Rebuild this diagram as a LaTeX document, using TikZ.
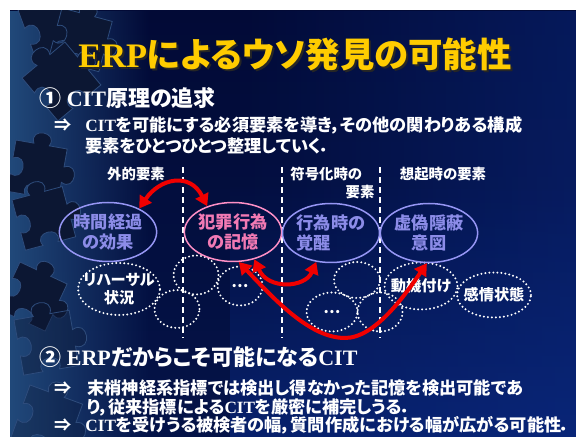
\documentclass[tikz,border=0pt]{standalone}
\usepackage{fontspec}
\setmainfont{Liberation Serif}
\newfontfamily\jp{Noto Sans CJK JP}[RawFeature=+palt]
\usepackage{tikz}
\usetikzlibrary{shapes,arrows.meta,fadings,positioning}
\newcommand{\ja}[1]{{\jp#1}}
\definecolor{navy}{HTML}{020A36}
\definecolor{navylow}{HTML}{041348}
\definecolor{deepblue}{HTML}{0B2C88}
\definecolor{edgeblue}{HTML}{21497A}
\definecolor{piecefill}{HTML}{0C1733}
\definecolor{pieceline}{HTML}{2E4C7C}
\definecolor{gold}{HTML}{FFCC00}
\definecolor{lav}{HTML}{9696F4}
\definecolor{lavtext}{HTML}{8C8CE8}
\definecolor{rose}{HTML}{FF90C6}
\definecolor{rosetext}{HTML}{F27AB4}
\definecolor{arrowred}{HTML}{F00000}
\tikzfading[name=fadeleft, left color=transparent!100, right color=transparent!0]
\tikzfading[name=faderight, left color=transparent!0, right color=transparent!100]
\tikzfading[name=fadeup, top color=transparent!100, bottom color=transparent!0]
\tikzstyle{elem}=[ellipse, draw=lav, line width=0.75pt, minimum width=48.5pt, minimum height=29.5pt, inner sep=0pt, text=lavtext, align=center, font=\jp\bfseries\fontsize{8.6}{10}\selectfont]
\tikzstyle{subelem}=[ellipse, draw=white, line width=1.1pt, dash pattern=on 0pt off 2pt, line cap=round, inner sep=0pt]
\tikzstyle{subtext}=[text=white, inner sep=0pt, align=center, font=\jp\bfseries\fontsize{7.6}{9}\selectfont]
\tikzstyle{coltag}=[text=white, inner sep=0pt, font=\jp\bfseries\fontsize{7.2}{8}\selectfont]
\tikzstyle{bodyline}=[text=white, anchor=west, inner sep=0pt, font=\bfseries\fontsize{8.6}{10}\selectfont]
\tikzstyle{hdline}=[text=white, anchor=west, inner sep=0pt, font=\bfseries\fontsize{11}{13}\selectfont]
\tikzstyle{titletext}=[inner sep=0pt, font=\bfseries\fontsize{17.2}{20}\selectfont]
\tikzstyle{divider}=[white, line width=0.7pt, dash pattern=on 3pt off 2pt]
\tikzstyle{redlink}=[arrowred, line width=2pt, {Triangle[length=6pt,width=7pt]}-{Triangle[length=6pt,width=7pt]}]
\tikzset{jigsaw/.pic={
	\path[pic actions] (0,0) -- (14,0) .. controls (8,-12) and (32,-12) .. (26,0) -- (40,0) -- (40,14) .. controls (52,8) and (52,32) .. (40,26) -- (40,40) -- (26,40) .. controls (32,28) and (8,28) .. (14,40) -- (0,40) -- (0,26) .. controls (12,32) and (12,8) .. (0,14) -- cycle;
}}

\begin{document}
\begin{tikzpicture}[x=0.5pt,y=-0.5pt]
	\useasboundingbox (0,0) rectangle (576,437);
	\fill[white] (0,0) rectangle (576,437);
	% slide background
	\begin{scope}
		\clip (10,11) rectangle (576,437);
		\shade[top color=navy, bottom color=navylow] (10,11) rectangle (576,437);
		\fill[deepblue, fill opacity=0.45, path fading=fadeleft] (230,11) rectangle (576,437);
		\fill[deepblue, fill opacity=0.55, path fading=fadeup] (230,180) rectangle (576,437);
		\fill[edgeblue, path fading=faderight] (10,11) rectangle (150,437);
		% jigsaw pieces down the left edge
		\pic[fill=piecefill, draw=pieceline, rotate=20, scale=1.4] at (18,10) {jigsaw};
		\pic[fill=piecefill, draw=pieceline, rotate=-15, scale=1.3] at (62,8) {jigsaw};
		\pic[fill=piecefill, draw=pieceline, rotate=40, scale=1.4] at (22,78) {jigsaw};
		\pic[fill=piecefill, draw=pieceline, rotate=-10, scale=1.3] at (16,140) {jigsaw};
		\pic[fill=piecefill, draw=pieceline, rotate=15, scale=1.3] at (12,200) {jigsaw};
		\pic[fill=piecefill, draw=pieceline, rotate=-25, scale=1.3] at (20,262) {jigsaw};
		\pic[fill=piecefill, fill opacity=0.4, draw=pieceline, rotate=10, scale=1.4] at (14,320) {jigsaw};
		\pic[fill=piecefill, fill opacity=0.3, draw=pieceline, rotate=-20, scale=1.4] at (30,385) {jigsaw};
	\end{scope}

	% title
	\node[titletext, text=black!85] (tshadow) at (297,56) {ERP\ja{によるウソ発見の可能性}};
	\node[titletext, text=gold] (title) at (295,54) {ERP\ja{によるウソ発見の可能性}};

	% part 1
	\node[hdline] (h1) at (39,98) {\ja{①} CIT\ja{原理の追求}};
	\node[bodyline] (i1) at (54,125) {\ja{⇒}};
	\node[bodyline] (t1) at (85,125) {CIT\ja{を可能にする必須要素を導き，その他の関わりある構成}};
	\node[bodyline] (t2) at (85,146) {\ja{要素をひとつひとつ整理していく．}};

	% column headings and dividers
	\node[coltag] (c1) at (136,174) {外的要素};
	\node[coltag, anchor=west] (c2) at (290,174) {符号化時の};
	\node[coltag] (c2b) at (360,192) {要素};
	\node[coltag] (c3) at (443,174) {想起時の要素};
	\foreach \x in {183,282,380}
		\draw[divider] (\x,167) -- (\x,338);

	% dotted side factors
	\node[subelem, minimum width=41pt, minimum height=26pt] (rehearsal) at (119,289) {};
	\node[subtext] at (rehearsal) {リハーサル\\状況};
	\node[subelem, minimum width=22.5pt, minimum height=19pt] (s1) at (177,309) {};
	\node[subelem, minimum width=22.5pt, minimum height=19.5pt] (s2) at (196,275) {};
	\node[subelem, minimum width=22.5pt, minimum height=19.5pt] (more1) at (240,286) {};
	\node[subtext] at (more1) {…};
	\node[subelem, minimum width=23pt, minimum height=18pt] (s3) at (357,280) {};
	\node[subelem, minimum width=25.5pt, minimum height=19.5pt] (more2) at (332,312) {};
	\node[subtext] at (more2) {…};
	\node[subelem, minimum width=22.5pt, minimum height=19.5pt] (s4) at (380,312) {};
	\node[subelem, minimum width=36.5pt, minimum height=23.5pt] (motive) at (421,286) {};
	\node[subtext] at (motive) {動機付け};
	\node[subelem, minimum width=37pt, minimum height=22.5pt] (emotion) at (494,295) {};
	\node[subtext] at (emotion) {感情状態};

	% main elements
	\node[elem] (time) at (108,232) {時間経過\\の効果};
	\node[elem, draw=rose, text=rosetext] (crime) at (233,232) {犯罪行為\\の記憶};
	\node[elem, align=left] (arousal) at (331,233) {行為時の\\覚醒};
	\node[elem] (intent) at (429,233) {虚偽隠蔽\\意図};

	% links
	\draw[redlink] (time.37) .. controls (160,178) and (190,172) .. (crime.135);
	\draw[redlink] (crime.-52) .. controls (268,290) and (305,288) .. (arousal.-117);
	\draw[redlink] (crime.-79) .. controls (275,300) and (310,338) .. (345,338) .. controls (375,338) and (405,295) .. (intent.-94);

	% part 2
	\node[hdline] (h2) at (39,357) {\ja{②} ERP\ja{だからこそ可能になる}CIT};
	\node[bodyline] (i2) at (54,388) {\ja{⇒}};
	\node[bodyline] (t3) at (87,388) {\ja{末梢神経系指標では検出し得なかった記憶を検出可能であ}};
	\node[bodyline] (t4) at (87,407) {\ja{り，従来指標による}CIT\ja{を厳密に補完しうる．}};
	\node[bodyline] (i3) at (54,425) {\ja{⇒}};
	\node[bodyline] (t5) at (85,425) {CIT\ja{を受けうる被検者の幅，質問作成における幅が広がる可能性．}};
\end{tikzpicture}
\end{document}
